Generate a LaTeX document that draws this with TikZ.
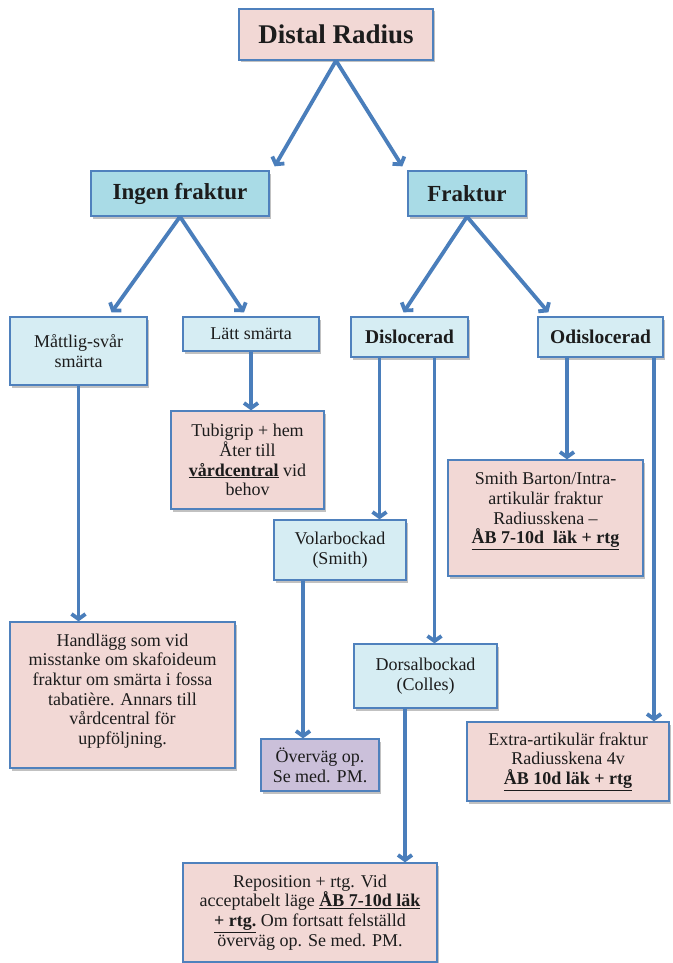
\documentclass[tikz,border=0pt]{standalone}
\usepackage{fontspec}
\setmainfont{Liberation Serif}
\usetikzlibrary{arrows.meta,shadows}
\definecolor{boxline}{HTML}{4F81BD}
\definecolor{arrowblue}{HTML}{4A7EBB}
\definecolor{boxpink}{HTML}{F2D8D5}
\definecolor{boxlight}{HTML}{D6EDF3}
\definecolor{boxmid}{HTML}{A9DBE6}
\definecolor{boxpurple}{HTML}{CBC0DA}
\definecolor{textdark}{HTML}{1C1C1C}
\begin{document}
\begin{tikzpicture}[x=1pt,y=-1pt,
    box/.style={draw=boxline, line width=1.3pt, align=center, inner sep=2pt, text=textdark,
      font=\fontsize{18}{19.7}\selectfont,
      drop shadow={shadow xshift=2pt,shadow yshift=-2.5pt,opacity=0.35,fill=black!70}},
    pinkbox/.style={box, fill=boxpink},
    lightbox/.style={box, fill=boxlight},
    midbox/.style={box, fill=boxmid},
    purplebox/.style={box, fill=boxpurple},
    arr/.style={draw=arrowblue, line width=3.8pt, -{Straight Barb[length=5pt,width=14pt]}}]
        \useasboundingbox (0,0) rectangle (672,963);

        \node[pinkbox, minimum width=194pt, minimum height=51pt, font=\bfseries\fontsize{27}{30}\selectfont] (DR) at (336,34.5) {Distal Radius};
        \node[midbox, minimum width=178pt, minimum height=45pt, font=\bfseries\fontsize{23}{26}\selectfont] (IF) at (180,193.5) {Ingen fraktur};
        \node[midbox, minimum width=118pt, minimum height=45pt, font=\bfseries\fontsize{23}{26}\selectfont] (F) at (467,193.5) {Fraktur};

        \node[lightbox, minimum width=137pt, minimum height=68pt] (MS) at (78.5,351) {Måttlig-svår\\smärta};
        \node[lightbox, minimum width=136pt, minimum height=34pt] (LS) at (251,334) {Lätt smärta};
        \node[lightbox, minimum width=117pt, minimum height=40pt, font=\bfseries\fontsize{19.5}{22}\selectfont] (D) at (409.5,337) {Dislocerad};
        \node[lightbox, minimum width=125pt, minimum height=40pt, font=\bfseries\fontsize{19.5}{22}\selectfont] (O) at (600.5,337) {Odislocerad};

        \node[pinkbox, minimum width=153pt, minimum height=98pt] (T) at (247.5,460) {Tubigrip + hem\\Åter till\\\underline{\textbf{vårdcentral}} vid\\behov};
        \node[pinkbox, minimum width=195pt, minimum height=116pt] (SB) at (545.5,518) {Smith Barton/Intra-\\artikulär fraktur\\Radiusskena –\\\underline{\textbf{ÅB 7-10d\ \ läk + rtg}}\\[0pt]};
        \node[lightbox, minimum width=132pt, minimum height=60pt] (V) at (340,550) {Volarbockad\\(Smith)};

        \node[pinkbox, minimum width=225pt, minimum height=146pt] (H) at (122.5,695) {Handlägg som vid\\misstanke om skafoideum\\fraktur om smärta i fossa\\tabatière. Annars till\\vårdcentral för\\uppföljning.\\[-8pt]};
        \node[lightbox, minimum width=143pt, minimum height=64pt] (DB) at (425.5,676) {Dorsalbockad\\(Colles)};
        \node[purplebox, minimum width=118pt, minimum height=52pt] (OV) at (320,765) {Överväg op.\\Se med. PM.};
        \node[pinkbox, minimum width=202pt, minimum height=79pt] (EA) at (568,761.5) {Extra-artikulär fraktur\\Radiusskena 4v\\\underline{\textbf{ÅB 10d läk + rtg}}};
        \node[pinkbox, minimum width=254pt, minimum height=99pt] (R) at (310,912.5) {Reposition + rtg. Vid\\acceptabelt läge \underline{\textbf{ÅB 7-10d läk}}\\\underline{\textbf{+ rtg.}} Om fortsatt felställd\\överväg op. Se med. PM.};

        \coordinate (D1) at ([xshift=-30pt]D.south);
        \coordinate (D2) at ([xshift=25pt]D.south);
        \coordinate (O1) at ([xshift=-33.5pt]O.south);
        \coordinate (O2) at ([xshift=53.5pt]O.south);
        \coordinate (V1) at ([xshift=-37pt]V.south);
        \coordinate (DB1) at ([xshift=-20.5pt]DB.south);

        \draw[arr] (DR.south) -- ([xshift=5pt,yshift=4pt]IF.north east);
        \draw[arr] (DR.south) -- ([xshift=-5pt,yshift=4pt]F.north west);
        \draw[arr] (IF.south) -- ([xshift=33pt,yshift=4pt]MS.north);
        \draw[arr] (IF.south) -- ([xshift=-7pt,yshift=4pt]LS.north);
        \draw[arr] (F.south) -- ([xshift=-6pt,yshift=4pt]D.north);
        \draw[arr] (F.south) -- ([xshift=11pt,yshift=4pt]O.north west);

        \draw[arr] (MS.south) -- (MS.south |- H.north);
        \draw[arr] (LS.south) -- (LS.south |- T.north);
        \draw[arr] (D1) -- (D1 |- V.north);
        \draw[arr] (D2) -- (D2 |- DB.north);
        \draw[arr] (O1) -- (O1 |- SB.north);
        \draw[arr] (O2) -- (O2 |- EA.north);
        \draw[arr] (V1) -- (V1 |- OV.north);
        \draw[arr] (DB1) -- (DB1 |- R.north);
      \end{tikzpicture}
\end{document}
